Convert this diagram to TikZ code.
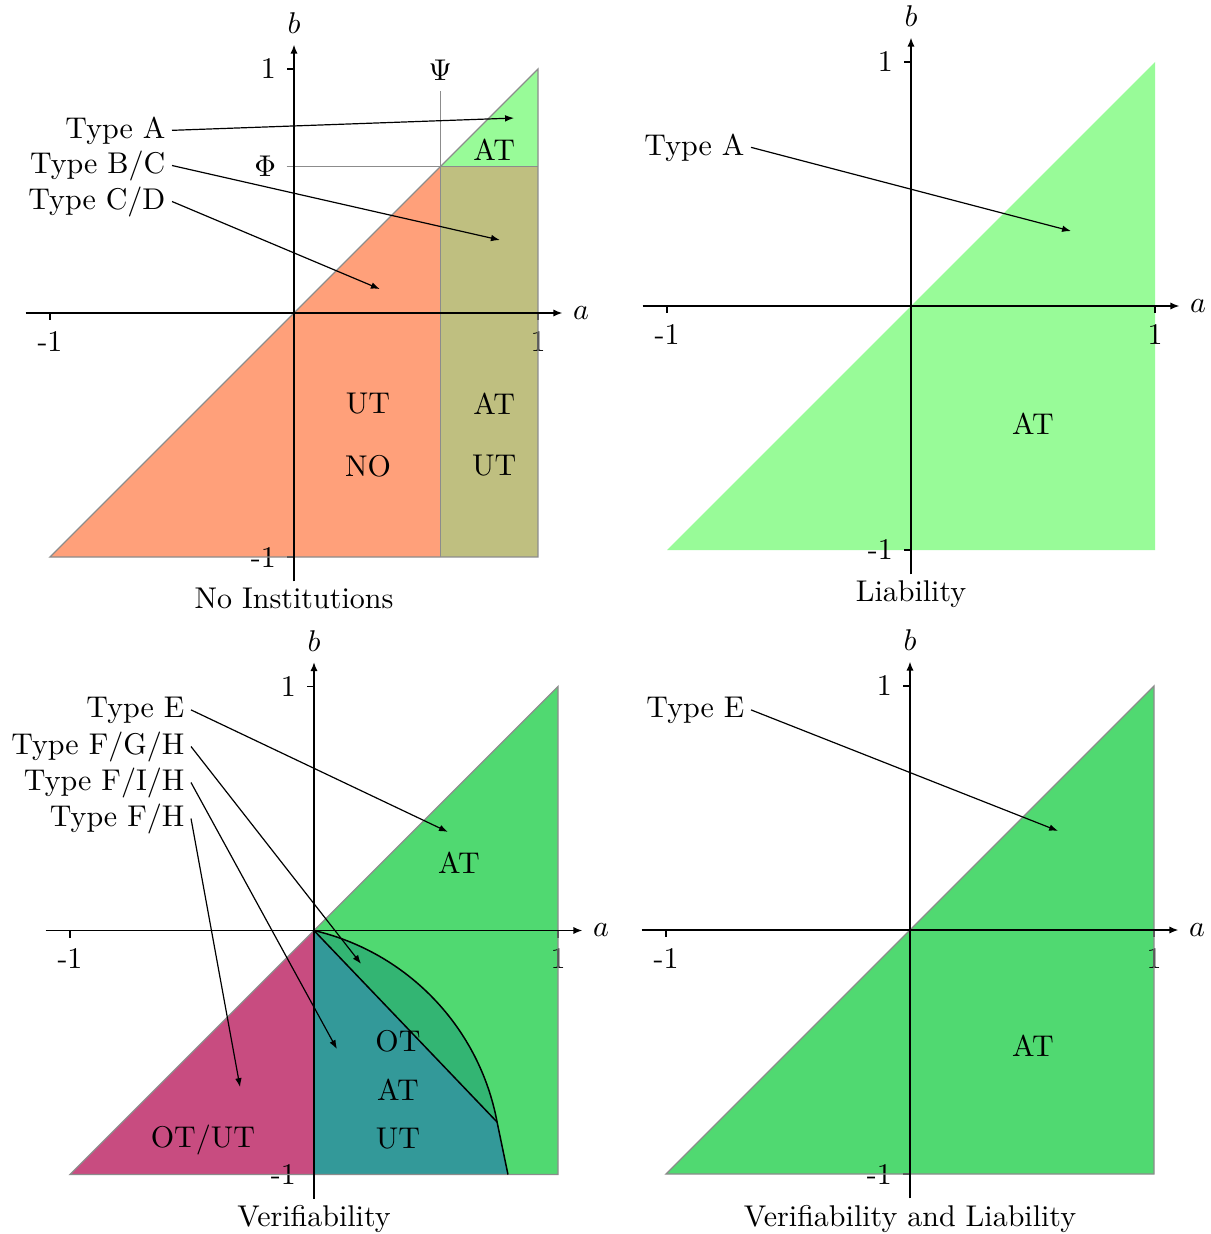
\documentclass[tikz,border=0pt]{standalone}
\usetikzlibrary{arrows.meta}
\definecolor{salmonc}{HTML}{FFA07A}
\definecolor{olivec}{HTML}{BFBF80}
\definecolor{pgreen}{HTML}{98FB98}
\definecolor{vgreen}{HTML}{50D971}
\definecolor{lensc}{HTML}{33B573}
\definecolor{tealc}{HTML}{339999}
\definecolor{pinkc}{HTML}{C84C80}
\definecolor{bordergray}{HTML}{8C8C8C}
\tikzset{
  axisline/.style={line width=0.5pt, -{Latex[length=3pt,width=2.4pt]}},
  tickmark/.style={line width=0.5pt},
  border/.style={draw=bordergray, line width=0.45pt},
  pointer/.style={line width=0.4pt, -{Latex[length=3pt,width=2.2pt]}},
  typelabel/.style={anchor=base east, inner sep=2pt},
  caption/.style={below, inner sep=2pt},
  curveline/.style={line width=0.5pt},
}
\begin{document}
\begin{tikzpicture}[x=0.33333pt,y=-0.33333pt]
\useasboundingbox (0,0) rectangle (1211,1234);

% ================= Top left: No Institutions =================
\begin{scope}[shift={(294,313)},x=81.333pt,y=81.333pt]
  \fill[salmonc] (-1,-1) -- (0.6,0.6) -- (0.6,-1) -- cycle;
  \fill[olivec] (0.6,-1) rectangle (1,0.6);
  \fill[pgreen] (0.6,0.6) -- (1,1) -- (1,0.6) -- cycle;
  \draw[tickmark] (-1,0) -- (-1,-0.03) node[below] (tlxm) {-1};
  \draw[tickmark] (1,0) -- (1,-0.03) node[below] (tlxp) {1};
  \draw[tickmark] (0,1) -- (-0.03,1) node[left] (tlyp) {1};
  \draw[tickmark] (0,-1) -- (-0.03,-1) node[left] (tlym) {-1};
  \draw[border] (-1,-1) -- (1,1) -- (1,-1) -- cycle;
  \draw[border] (0.6,-1) -- (0.6,0.91);
  \draw[border] (-0.03,0.6) -- (1,0.6);
  \node[left] (tlphi) at (-0.03,0.6) {$\Phi$};
  \node[above] (tlpsi) at (0.6,0.91) {$\Psi$};
  \draw[axisline] (-1.1,0) -- (1.1,0) node[right] (tla) {$a$};
  \draw[axisline] (0,-1.1) -- (0,1.1) node[above] (tlb) {$b$};
  \node[caption] (tlcap) at (0,-1.1) {No Institutions};
  \node (tlat1) at (0.82,0.668) {AT};
  \node (tlut1) at (0.303,-0.373) {UT};
  \node (tlno) at (0.303,-0.627) {NO};
  \node (tlat2) at (0.82,-0.373) {AT};
  \node (tlut2) at (0.82,-0.627) {UT};
  \coordinate (tipA1) at (0.902,0.799);
  \coordinate (tipBC) at (0.844,0.299);
  \coordinate (tipCD) at (0.352,0.098);
\end{scope}

% ================= Top right: Liability =================
\begin{scope}[shift={(911,306)},x=81.333pt,y=81.333pt]
  \fill[pgreen] (-1,-1) -- (1,1) -- (1,-1) -- cycle;
  \draw[tickmark] (-1,0) -- (-1,-0.03) node[below] (trxm) {-1};
  \draw[tickmark] (1,0) -- (1,-0.03) node[below] (trxp) {1};
  \draw[tickmark] (0,1) -- (-0.03,1) node[left] (tryp) {1};
  \draw[tickmark] (0,-1) -- (-0.03,-1) node[left] (trym) {-1};
  \draw[axisline] (-1.1,0) -- (1.1,0) node[right] (tra) {$a$};
  \draw[axisline] (0,-1.1) -- (0,1.1) node[above] (trb) {$b$};
  \node[caption] (trcap) at (0,-1.1) {Liability};
  \node (trat) at (0.5,-0.484) {AT};
  \coordinate (tipA2) at (0.656,0.307);
\end{scope}

% ================= Bottom left: Verifiability =================
\begin{scope}[shift={(314,930.5)},x=81.333pt,y=81.333pt]
  \coordinate (P) at (0.7503,-0.785);
  \coordinate (Q) at (0.795,-1);
  \fill[vgreen] (0,0) -- (1,1) -- (1,-1) -- (0,-1) -- cycle;
  \fill[pinkc] (-1,-1) -- (0,0) -- (0,-1) -- cycle;
  \fill[lensc] (0,0) arc[start angle=76.85, end angle=10.56, radius=0.9931] -- cycle;
  \fill[tealc] (0,0) -- (P) -- (Q) -- (0,-1) -- cycle;
  \draw[tickmark] (-1,0) -- (-1,-0.03) node[below] (blxm) {-1};
  \draw[tickmark] (1,0) -- (1,-0.03) node[below] (blxp) {1};
  \draw[tickmark] (0,1) -- (-0.03,1) node[left] (blyp) {1};
  \draw[tickmark] (0,-1) -- (-0.03,-1) node[left] (blym) {-1};
  \draw[border] (-1,-1) -- (1,1) -- (1,-1) -- cycle;
  \draw[curveline] (0,0) arc[start angle=76.85, end angle=10.56, radius=0.9931] -- (Q);
  \draw[curveline] (0,0) -- (P);
  \draw[axisline] (-1.1,0) -- (1.1,0) node[right] (bla) {$a$};
  \draw[axisline] (0,-1.1) -- (0,1.1) node[above] (blb) {$b$};
  \node[caption] (blcap) at (0,-1.1) {Verifiability};
  \node (blat) at (0.594,0.279) {AT};
  \node (blot) at (0.344,-0.452) {OT};
  \node (blat2) at (0.344,-0.652) {AT};
  \node (blut) at (0.344,-0.852) {UT};
  \node (blotut) at (-0.455,-0.86) {OT/UT};
  \coordinate (tipE1) at (0.549,0.404);
  \coordinate (tipFGH) at (0.193,-0.137);
  \coordinate (tipFIH) at (0.094,-0.486);
  \coordinate (tipFH) at (-0.303,-0.642);
\end{scope}

% ================= Bottom right: Verifiability and Liability =================
\begin{scope}[shift={(910,930)},x=81.333pt,y=81.333pt]
  \fill[vgreen] (-1,-1) -- (1,1) -- (1,-1) -- cycle;
  \draw[tickmark] (-1,0) -- (-1,-0.03) node[below] (brxm) {-1};
  \draw[tickmark] (1,0) -- (1,-0.03) node[below] (brxp) {1};
  \draw[tickmark] (0,1) -- (-0.03,1) node[left] (bryp) {1};
  \draw[tickmark] (0,-1) -- (-0.03,-1) node[left] (brym) {-1};
  \draw[border] (-1,-1) -- (1,1) -- (1,-1) -- cycle;
  \draw[axisline] (-1.1,0) -- (1.1,0) node[right] (bra) {$a$};
  \draw[axisline] (0,-1.1) -- (0,1.1) node[above] (brb) {$b$};
  \node[caption] (brcap) at (0,-1.1) {Verifiability and Liability};
  \node (brat) at (0.504,-0.475) {AT};
  \coordinate (tipE2) at (0.607,0.406);
\end{scope}

% ================= Type labels and pointers =================
\node[typelabel] (ta1) at (172,138) {Type A};
\node[typelabel] (tbc) at (172,173) {Type B/C};
\node[typelabel] (tcd) at (172,209) {Type C/D};
\node[typelabel] (ta2) at (751,155) {Type A};
\node[typelabel] (te1) at (191,717) {Type E};
\node[typelabel] (tfgh) at (191,754) {Type F/G/H};
\node[typelabel] (tfih) at (191,790) {Type F/I/H};
\node[typelabel] (tfh) at (191,826) {Type F/H};
\node[typelabel] (te2) at (751,717) {Type E};

\draw[pointer] (ta1.east) -- (tipA1);
\draw[pointer] (tbc.east) -- (tipBC);
\draw[pointer] (tcd.east) -- (tipCD);
\draw[pointer] (ta2.east) -- (tipA2);
\draw[pointer] (te1.east) -- (tipE1);
\draw[pointer] (tfgh.east) -- (tipFGH);
\draw[pointer] (tfih.east) -- (tipFIH);
\draw[pointer] (tfh.east) -- (tipFH);
\draw[pointer] (te2.east) -- (tipE2);
\end{tikzpicture}
\end{document}
